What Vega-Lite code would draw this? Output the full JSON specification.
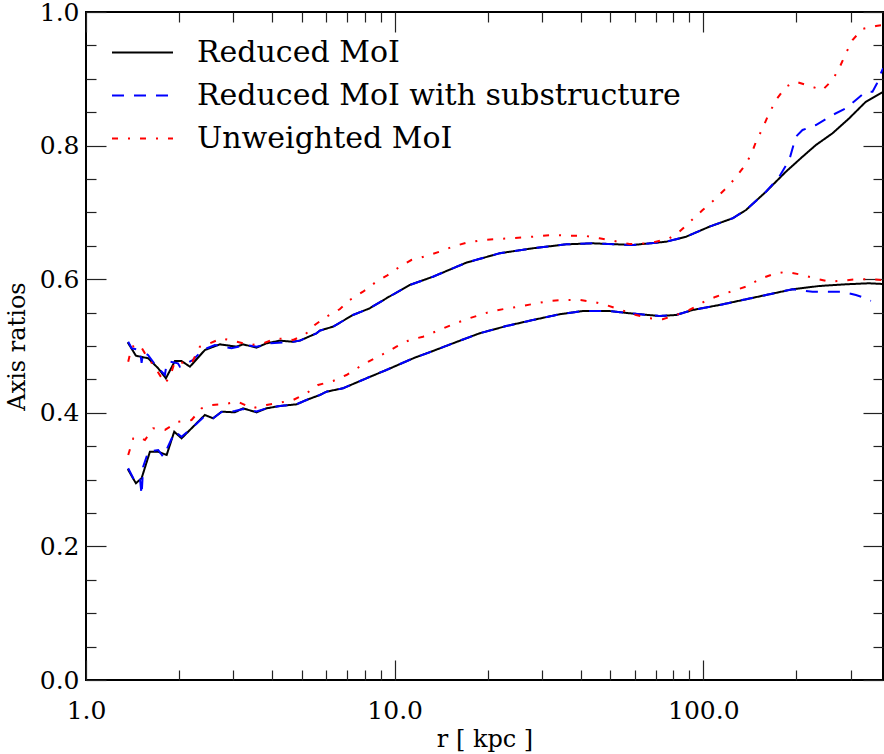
{
  "$schema": "https://vega.github.io/schema/vega-lite/v6.json",
  "width": 797,
  "height": 668,
  "autosize": {"type": "none"},
  "padding": {"left": 86, "top": 12, "right": 1, "bottom": 74},
  "background": "white",
  "config": {
    "view": {"stroke": "black", "strokeWidth": 2},
    "font": "DejaVu Serif",
    "axis": {
      "labelFont": "DejaVu Serif", "titleFont": "DejaVu Serif",
      "labelColor": "black", "titleColor": "black", "tickColor": "#222222",
      "domain": false, "grid": false, "labelFontSize": 25, "titleFontSize": 24,
      "titleFontWeight": "normal", "tickWidth": 1.2, "labelFlush": false, "labelOverlap": false
    }
  },
  "datasets": {
    "frame": [{"r": 1, "q": 0}, {"r": 382, "q": 1}],
    "curves": [
      {"s":"Reduced MoI","k":"b","r":1.365,"q":0.5055},{"s":"Reduced MoI","k":"b","r":1.451,"q":0.4855},{"s":"Reduced MoI","k":"b","r":1.591,"q":0.4816},{"s":"Reduced MoI","k":"b","r":1.714,"q":0.4666},{"s":"Reduced MoI","k":"b","r":1.815,"q":0.4516},{"s":"Reduced MoI","k":"b","r":1.941,"q":0.4775},{"s":"Reduced MoI","k":"b","r":2.04,"q":0.4775},{"s":"Reduced MoI","k":"b","r":2.171,"q":0.469},{"s":"Reduced MoI","k":"b","r":2.427,"q":0.494},{"s":"Reduced MoI","k":"b","r":2.714,"q":0.5025},{"s":"Reduced MoI","k":"b","r":3.074,"q":0.499},{"s":"Reduced MoI","k":"b","r":3.228,"q":0.5025},{"s":"Reduced MoI","k":"b","r":3.568,"q":0.4975},{"s":"Reduced MoI","k":"b","r":3.844,"q":0.504},{"s":"Reduced MoI","k":"b","r":4.245,"q":0.508},{"s":"Reduced MoI","k":"b","r":4.688,"q":0.5064},{"s":"Reduced MoI","k":"b","r":4.927,"q":0.508},{"s":"Reduced MoI","k":"b","r":5.58,"q":0.519},{"s":"Reduced MoI","k":"b","r":5.719,"q":0.523},{"s":"Reduced MoI","k":"b","r":6.315,"q":0.529},{"s":"Reduced MoI","k":"b","r":7.329,"q":0.5464},{"s":"Reduced MoI","k":"b","r":8.298,"q":0.5564},{"s":"Reduced MoI","k":"b","r":9.401,"q":0.5714},{"s":"Reduced MoI","k":"b","r":11.18,"q":0.5913},{"s":"Reduced MoI","k":"b","r":13.3,"q":0.6037},{"s":"Reduced MoI","k":"b","r":17.06,"q":0.6247},{"s":"Reduced MoI","k":"b","r":21.87,"q":0.6388},{"s":"Reduced MoI","k":"b","r":28.03,"q":0.6463},{"s":"Reduced MoI","k":"b","r":35.95,"q":0.6522},{"s":"Reduced MoI","k":"b","r":43.83,"q":0.6537},{"s":"Reduced MoI","k":"b","r":59.07,"q":0.6512},{"s":"Reduced MoI","k":"b","r":75.74,"q":0.6561},{"s":"Reduced MoI","k":"b","r":87.9,"q":0.6636},{"s":"Reduced MoI","k":"b","r":104.6,"q":0.6786},{"s":"Reduced MoI","k":"b","r":124.4,"q":0.6912},{"s":"Reduced MoI","k":"b","r":137.5,"q":0.7036},{"s":"Reduced MoI","k":"b","r":159.6,"q":0.731},{"s":"Reduced MoI","k":"b","r":185.2,"q":0.761},{"s":"Reduced MoI","k":"b","r":209.6,"q":0.7834},{"s":"Reduced MoI","k":"b","r":231.6,"q":0.8009},{"s":"Reduced MoI","k":"b","r":262.1,"q":0.8184},{"s":"Reduced MoI","k":"b","r":296.9,"q":0.8409},{"s":"Reduced MoI","k":"b","r":336.2,"q":0.8657},{"s":"Reduced MoI","k":"b","r":371.2,"q":0.8772},{"s":"Reduced MoI","k":"b","r":382.4,"q":0.8802},

      {"s":"Reduced MoI with substructure","k":"b","r":1.37,"q":0.5064},{"s":"Reduced MoI with substructure","k":"b","r":1.406,"q":0.4966},{"s":"Reduced MoI with substructure","k":"b","r":1.495,"q":0.494},{"s":"Reduced MoI with substructure","k":"b","r":1.514,"q":0.4746},{"s":"Reduced MoI with substructure","k":"b","r":1.532,"q":0.491},{"s":"Reduced MoI with substructure","k":"b","r":1.588,"q":0.4865},{"s":"Reduced MoI with substructure","k":"b","r":1.694,"q":0.469},{"s":"Reduced MoI with substructure","k":"b","r":1.802,"q":0.4566},{"s":"Reduced MoI with substructure","k":"b","r":1.825,"q":0.4741},{"s":"Reduced MoI with substructure","k":"b","r":1.87,"q":0.4765},{"s":"Reduced MoI with substructure","k":"b","r":1.985,"q":0.4741},{"s":"Reduced MoI with substructure","k":"b","r":2.015,"q":0.469},{"s":"Reduced MoI with substructure","k":"b","r":2.219,"q":0.479},{"s":"Reduced MoI with substructure","k":"b","r":2.391,"q":0.494},{"s":"Reduced MoI with substructure","k":"b","r":2.615,"q":0.5015},{"s":"Reduced MoI with substructure","k":"b","r":2.961,"q":0.4966},{"s":"Reduced MoI with substructure","k":"b","r":3.311,"q":0.5015},{"s":"Reduced MoI with substructure","k":"b","r":3.568,"q":0.499},{"s":"Reduced MoI with substructure","k":"b","r":3.94,"q":0.504},{"s":"Reduced MoI with substructure","k":"b","r":4.688,"q":0.5064},{"s":"Reduced MoI with substructure","k":"b","r":4.927,"q":0.508},{"s":"Reduced MoI with substructure","k":"b","r":5.58,"q":0.519},{"s":"Reduced MoI with substructure","k":"b","r":5.719,"q":0.523},{"s":"Reduced MoI with substructure","k":"b","r":6.315,"q":0.529},{"s":"Reduced MoI with substructure","k":"b","r":7.329,"q":0.5464},{"s":"Reduced MoI with substructure","k":"b","r":8.298,"q":0.5564},{"s":"Reduced MoI with substructure","k":"b","r":9.401,"q":0.5714},{"s":"Reduced MoI with substructure","k":"b","r":11.18,"q":0.5913},{"s":"Reduced MoI with substructure","k":"b","r":13.3,"q":0.6037},{"s":"Reduced MoI with substructure","k":"b","r":17.06,"q":0.6247},{"s":"Reduced MoI with substructure","k":"b","r":21.87,"q":0.6388},{"s":"Reduced MoI with substructure","k":"b","r":28.03,"q":0.6463},{"s":"Reduced MoI with substructure","k":"b","r":35.95,"q":0.6522},{"s":"Reduced MoI with substructure","k":"b","r":43.83,"q":0.6537},{"s":"Reduced MoI with substructure","k":"b","r":59.07,"q":0.6512},{"s":"Reduced MoI with substructure","k":"b","r":75.74,"q":0.6561},{"s":"Reduced MoI with substructure","k":"b","r":87.9,"q":0.6636},{"s":"Reduced MoI with substructure","k":"b","r":104.6,"q":0.6786},{"s":"Reduced MoI with substructure","k":"b","r":124.4,"q":0.6912},{"s":"Reduced MoI with substructure","k":"b","r":137.5,"q":0.7036},{"s":"Reduced MoI with substructure","k":"b","r":159.6,"q":0.731},{"s":"Reduced MoI with substructure","k":"b","r":176.2,"q":0.7534},{"s":"Reduced MoI with substructure","k":"b","r":189.8,"q":0.7784},{"s":"Reduced MoI with substructure","k":"b","r":199.5,"q":0.8133},{"s":"Reduced MoI with substructure","k":"b","r":209.6,"q":0.8234},{"s":"Reduced MoI with substructure","k":"b","r":231.6,"q":0.8308},{"s":"Reduced MoI with substructure","k":"b","r":262.1,"q":0.8458},{"s":"Reduced MoI with substructure","k":"b","r":289.6,"q":0.8558},{"s":"Reduced MoI with substructure","k":"b","r":312.1,"q":0.8683},{"s":"Reduced MoI with substructure","k":"b","r":336.2,"q":0.8807},{"s":"Reduced MoI with substructure","k":"b","r":353.2,"q":0.8807},{"s":"Reduced MoI with substructure","k":"b","r":365,"q":0.893},{"s":"Reduced MoI with substructure","k":"b","r":375.9,"q":0.9082},{"s":"Reduced MoI with substructure","k":"b","r":382.4,"q":0.916},

      {"s":"Unweighted MoI","k":"b","r":1.37,"q":0.4765},{"s":"Unweighted MoI","k":"b","r":1.406,"q":0.499},{"s":"Unweighted MoI","k":"b","r":1.495,"q":0.5015},{"s":"Unweighted MoI","k":"b","r":1.552,"q":0.489},{"s":"Unweighted MoI","k":"b","r":1.694,"q":0.464},{"s":"Unweighted MoI","k":"b","r":1.802,"q":0.4442},{"s":"Unweighted MoI","k":"b","r":1.87,"q":0.454},{"s":"Unweighted MoI","k":"b","r":1.941,"q":0.4765},{"s":"Unweighted MoI","k":"b","r":2.118,"q":0.4741},{"s":"Unweighted MoI","k":"b","r":2.198,"q":0.4741},{"s":"Unweighted MoI","k":"b","r":2.339,"q":0.499},{"s":"Unweighted MoI","k":"b","r":2.519,"q":0.504},{"s":"Unweighted MoI","k":"b","r":2.749,"q":0.5115},{"s":"Unweighted MoI","k":"b","r":3.074,"q":0.5064},{"s":"Unweighted MoI","k":"b","r":3.394,"q":0.5015},{"s":"Unweighted MoI","k":"b","r":3.748,"q":0.504},{"s":"Unweighted MoI","k":"b","r":4.141,"q":0.5115},{"s":"Unweighted MoI","k":"b","r":4.688,"q":0.509},{"s":"Unweighted MoI","k":"b","r":5.113,"q":0.5165},{"s":"Unweighted MoI","k":"b","r":5.509,"q":0.5314},{"s":"Unweighted MoI","k":"b","r":6.012,"q":0.5439},{"s":"Unweighted MoI","k":"b","r":6.637,"q":0.555},{"s":"Unweighted MoI","k":"b","r":7.152,"q":0.5689},{"s":"Unweighted MoI","k":"b","r":7.897,"q":0.5813},{"s":"Unweighted MoI","k":"b","r":8.724,"q":0.5963},{"s":"Unweighted MoI","k":"b","r":9.401,"q":0.6048},{"s":"Unweighted MoI","k":"b","r":10.38,"q":0.6187},{"s":"Unweighted MoI","k":"b","r":11.32,"q":0.6287},{"s":"Unweighted MoI","k":"b","r":12.66,"q":0.6347},{"s":"Unweighted MoI","k":"b","r":13.98,"q":0.6412},{"s":"Unweighted MoI","k":"b","r":15.44,"q":0.6487},{"s":"Unweighted MoI","k":"b","r":17.06,"q":0.6546},{"s":"Unweighted MoI","k":"b","r":19.31,"q":0.6587},{"s":"Unweighted MoI","k":"b","r":23.56,"q":0.6612},{"s":"Unweighted MoI","k":"b","r":28.03,"q":0.6636},{"s":"Unweighted MoI","k":"b","r":32.54,"q":0.6662},{"s":"Unweighted MoI","k":"b","r":36.84,"q":0.6651},{"s":"Unweighted MoI","k":"b","r":41.73,"q":0.6647},{"s":"Unweighted MoI","k":"b","r":46.06,"q":0.6612},{"s":"Unweighted MoI","k":"b","r":50.87,"q":0.6576},{"s":"Unweighted MoI","k":"b","r":57.63,"q":0.6527},{"s":"Unweighted MoI","k":"b","r":66.88,"q":0.6537},{"s":"Unweighted MoI","k":"b","r":77.62,"q":0.6612},{"s":"Unweighted MoI","k":"b","r":83.62,"q":0.6711},{"s":"Unweighted MoI","k":"b","r":92.36,"q":0.6897},{"s":"Unweighted MoI","k":"b","r":99.48,"q":0.7036},{"s":"Unweighted MoI","k":"b","r":108.5,"q":0.7186},{"s":"Unweighted MoI","k":"b","r":116.9,"q":0.7335},{"s":"Unweighted MoI","k":"b","r":126.0,"q":0.7496},{"s":"Unweighted MoI","k":"b","r":134.1,"q":0.766},{"s":"Unweighted MoI","k":"b","r":142.7,"q":0.7859},{"s":"Unweighted MoI","k":"b","r":148.1,"q":0.8058},{"s":"Unweighted MoI","k":"b","r":155.6,"q":0.8259},{"s":"Unweighted MoI","k":"b","r":161.5,"q":0.8433},{"s":"Unweighted MoI","k":"b","r":171.9,"q":0.8683},{"s":"Unweighted MoI","k":"b","r":185.2,"q":0.8882},{"s":"Unweighted MoI","k":"b","r":199.5,"q":0.8957},{"s":"Unweighted MoI","k":"b","r":220.3,"q":0.8892},{"s":"Unweighted MoI","k":"b","r":243.3,"q":0.8832},{"s":"Unweighted MoI","k":"b","r":262.1,"q":0.8982},{"s":"Unweighted MoI","k":"b","r":275.5,"q":0.9157},{"s":"Unweighted MoI","k":"b","r":289.6,"q":0.9382},{"s":"Unweighted MoI","k":"b","r":304.3,"q":0.9581},{"s":"Unweighted MoI","k":"b","r":327.8,"q":0.9746},{"s":"Unweighted MoI","k":"b","r":362.2,"q":0.979},{"s":"Unweighted MoI","k":"b","r":382.4,"q":0.9805},

      {"s":"Reduced MoI","k":"c","r":1.365,"q":0.3159},{"s":"Reduced MoI","k":"c","r":1.451,"q":0.2945},{"s":"Reduced MoI","k":"c","r":1.514,"q":0.302},{"s":"Reduced MoI","k":"c","r":1.611,"q":0.3418},{"s":"Reduced MoI","k":"c","r":1.714,"q":0.3418},{"s":"Reduced MoI","k":"c","r":1.825,"q":0.3368},{"s":"Reduced MoI","k":"c","r":1.931,"q":0.3717},{"s":"Reduced MoI","k":"c","r":2.04,"q":0.3618},{"s":"Reduced MoI","k":"c","r":2.224,"q":0.3792},{"s":"Reduced MoI","k":"c","r":2.427,"q":0.3967},{"s":"Reduced MoI","k":"c","r":2.582,"q":0.3918},{"s":"Reduced MoI","k":"c","r":2.749,"q":0.4017},{"s":"Reduced MoI","k":"c","r":3.035,"q":0.4007},{"s":"Reduced MoI","k":"c","r":3.228,"q":0.4067},{"s":"Reduced MoI","k":"c","r":3.568,"q":0.4007},{"s":"Reduced MoI","k":"c","r":3.844,"q":0.4067},{"s":"Reduced MoI","k":"c","r":4.245,"q":0.4102},{"s":"Reduced MoI","k":"c","r":4.808,"q":0.4127},{"s":"Reduced MoI","k":"c","r":5.178,"q":0.4192},{"s":"Reduced MoI","k":"c","r":5.719,"q":0.4266},{"s":"Reduced MoI","k":"c","r":6.012,"q":0.4316},{"s":"Reduced MoI","k":"c","r":6.804,"q":0.4367},{"s":"Reduced MoI","k":"c","r":8.095,"q":0.4516},{"s":"Reduced MoI","k":"c","r":9.401,"q":0.4641},{"s":"Reduced MoI","k":"c","r":11.61,"q":0.4825},{"s":"Reduced MoI","k":"c","r":13.3,"q":0.4925},{"s":"Reduced MoI","k":"c","r":15.44,"q":0.504},{"s":"Reduced MoI","k":"c","r":18.84,"q":0.519},{"s":"Reduced MoI","k":"c","r":22.99,"q":0.5299},{"s":"Reduced MoI","k":"c","r":28.03,"q":0.5389},{"s":"Reduced MoI","k":"c","r":34.2,"q":0.5475},{"s":"Reduced MoI","k":"c","r":40.69,"q":0.5524},{"s":"Reduced MoI","k":"c","r":49.64,"q":0.5524},{"s":"Reduced MoI","k":"c","r":57.63,"q":0.549},{"s":"Reduced MoI","k":"c","r":72.04,"q":0.5449},{"s":"Reduced MoI","k":"c","r":81.6,"q":0.5464},{"s":"Reduced MoI","k":"c","r":92.36,"q":0.5539},{"s":"Reduced MoI","k":"c","r":112.7,"q":0.5614},{"s":"Reduced MoI","k":"c","r":137.5,"q":0.5699},{"s":"Reduced MoI","k":"c","r":163.6,"q":0.5774},{"s":"Reduced MoI","k":"c","r":194.5,"q":0.5849},{"s":"Reduced MoI","k":"c","r":237.4,"q":0.5898},{"s":"Reduced MoI","k":"c","r":289.6,"q":0.5924},{"s":"Reduced MoI","k":"c","r":344.6,"q":0.5939},{"s":"Reduced MoI","k":"c","r":382.4,"q":0.5928},

      {"s":"Reduced MoI with substructure","k":"c","r":1.37,"q":0.3169},{"s":"Reduced MoI with substructure","k":"c","r":1.441,"q":0.2969},{"s":"Reduced MoI with substructure","k":"c","r":1.495,"q":0.3024},{"s":"Reduced MoI with substructure","k":"c","r":1.514,"q":0.277},{"s":"Reduced MoI with substructure","k":"c","r":1.532,"q":0.3193},{"s":"Reduced MoI with substructure","k":"c","r":1.591,"q":0.3418},{"s":"Reduced MoI with substructure","k":"c","r":1.714,"q":0.3443},{"s":"Reduced MoI with substructure","k":"c","r":1.779,"q":0.3343},{"s":"Reduced MoI with substructure","k":"c","r":1.941,"q":0.3717},{"s":"Reduced MoI with substructure","k":"c","r":2.04,"q":0.3642},{"s":"Reduced MoI with substructure","k":"c","r":2.198,"q":0.3768},{"s":"Reduced MoI with substructure","k":"c","r":2.427,"q":0.3952},{"s":"Reduced MoI with substructure","k":"c","r":2.582,"q":0.3918},{"s":"Reduced MoI with substructure","k":"c","r":2.749,"q":0.4012},{"s":"Reduced MoI with substructure","k":"c","r":3.035,"q":0.4027},{"s":"Reduced MoI with substructure","k":"c","r":3.228,"q":0.4057},{"s":"Reduced MoI with substructure","k":"c","r":3.568,"q":0.402},{"s":"Reduced MoI with substructure","k":"c","r":3.844,"q":0.4067},{"s":"Reduced MoI with substructure","k":"c","r":4.245,"q":0.4102},{"s":"Reduced MoI with substructure","k":"c","r":4.808,"q":0.4127},{"s":"Reduced MoI with substructure","k":"c","r":5.178,"q":0.4192},{"s":"Reduced MoI with substructure","k":"c","r":5.719,"q":0.4266},{"s":"Reduced MoI with substructure","k":"c","r":6.012,"q":0.4316},{"s":"Reduced MoI with substructure","k":"c","r":6.804,"q":0.4367},{"s":"Reduced MoI with substructure","k":"c","r":8.095,"q":0.4516},{"s":"Reduced MoI with substructure","k":"c","r":9.401,"q":0.4641},{"s":"Reduced MoI with substructure","k":"c","r":11.61,"q":0.4825},{"s":"Reduced MoI with substructure","k":"c","r":13.3,"q":0.4925},{"s":"Reduced MoI with substructure","k":"c","r":15.44,"q":0.504},{"s":"Reduced MoI with substructure","k":"c","r":18.84,"q":0.519},{"s":"Reduced MoI with substructure","k":"c","r":22.99,"q":0.5299},{"s":"Reduced MoI with substructure","k":"c","r":28.03,"q":0.5389},{"s":"Reduced MoI with substructure","k":"c","r":34.2,"q":0.5475},{"s":"Reduced MoI with substructure","k":"c","r":40.69,"q":0.5524},{"s":"Reduced MoI with substructure","k":"c","r":49.64,"q":0.5524},{"s":"Reduced MoI with substructure","k":"c","r":57.63,"q":0.549},{"s":"Reduced MoI with substructure","k":"c","r":72.04,"q":0.5449},{"s":"Reduced MoI with substructure","k":"c","r":81.6,"q":0.5464},{"s":"Reduced MoI with substructure","k":"c","r":92.36,"q":0.5539},{"s":"Reduced MoI with substructure","k":"c","r":112.7,"q":0.5614},{"s":"Reduced MoI with substructure","k":"c","r":137.5,"q":0.5699},{"s":"Reduced MoI with substructure","k":"c","r":163.6,"q":0.5774},{"s":"Reduced MoI with substructure","k":"c","r":194.5,"q":0.5849},{"s":"Reduced MoI with substructure","k":"c","r":225.8,"q":0.5813},{"s":"Reduced MoI with substructure","k":"c","r":246.4,"q":0.5813},{"s":"Reduced MoI with substructure","k":"c","r":282.3,"q":0.5813},{"s":"Reduced MoI with substructure","k":"c","r":312.1,"q":0.5763},{"s":"Reduced MoI with substructure","k":"c","r":336.2,"q":0.5714},{"s":"Reduced MoI with substructure","k":"c","r":349.0,"q":0.5674},

      {"s":"Unweighted MoI","k":"c","r":1.37,"q":0.3368},{"s":"Unweighted MoI","k":"c","r":1.423,"q":0.3618},{"s":"Unweighted MoI","k":"c","r":1.476,"q":0.3642},{"s":"Unweighted MoI","k":"c","r":1.552,"q":0.3593},{"s":"Unweighted MoI","k":"c","r":1.651,"q":0.3768},{"s":"Unweighted MoI","k":"c","r":1.802,"q":0.3743},{"s":"Unweighted MoI","k":"c","r":1.99,"q":0.3867},{"s":"Unweighted MoI","k":"c","r":2.198,"q":0.3892},{"s":"Unweighted MoI","k":"c","r":2.368,"q":0.4067},{"s":"Unweighted MoI","k":"c","r":2.551,"q":0.4117},{"s":"Unweighted MoI","k":"c","r":2.818,"q":0.4132},{"s":"Unweighted MoI","k":"c","r":3.111,"q":0.4166},{"s":"Unweighted MoI","k":"c","r":3.437,"q":0.4067},{"s":"Unweighted MoI","k":"c","r":3.844,"q":0.4117},{"s":"Unweighted MoI","k":"c","r":4.245,"q":0.4151},{"s":"Unweighted MoI","k":"c","r":4.688,"q":0.4192},{"s":"Unweighted MoI","k":"c","r":5.178,"q":0.4292},{"s":"Unweighted MoI","k":"c","r":5.647,"q":0.4416},{"s":"Unweighted MoI","k":"c","r":6.315,"q":0.4476},{"s":"Unweighted MoI","k":"c","r":6.979,"q":0.4566},{"s":"Unweighted MoI","k":"c","r":7.703,"q":0.469},{"s":"Unweighted MoI","k":"c","r":8.403,"q":0.479},{"s":"Unweighted MoI","k":"c","r":9.282,"q":0.4891},{"s":"Unweighted MoI","k":"c","r":10.13,"q":0.499},{"s":"Unweighted MoI","k":"c","r":11.18,"q":0.509},{"s":"Unweighted MoI","k":"c","r":12.35,"q":0.5139},{"s":"Unweighted MoI","k":"c","r":13.98,"q":0.524},{"s":"Unweighted MoI","k":"c","r":15.26,"q":0.5314},{"s":"Unweighted MoI","k":"c","r":17.06,"q":0.54},{"s":"Unweighted MoI","k":"c","r":18.84,"q":0.5464},{"s":"Unweighted MoI","k":"c","r":20.8,"q":0.5524},{"s":"Unweighted MoI","k":"c","r":23.27,"q":0.5564},{"s":"Unweighted MoI","k":"c","r":26.02,"q":0.5599},{"s":"Unweighted MoI","k":"c","r":28.75,"q":0.5639},{"s":"Unweighted MoI","k":"c","r":31.74,"q":0.5674},{"s":"Unweighted MoI","k":"c","r":35.49,"q":0.5689},{"s":"Unweighted MoI","k":"c","r":39.7,"q":0.5689},{"s":"Unweighted MoI","k":"c","r":43.83,"q":0.5663},{"s":"Unweighted MoI","k":"c","r":48.43,"q":0.5614},{"s":"Unweighted MoI","k":"c","r":54.16,"q":0.5539},{"s":"Unweighted MoI","k":"c","r":60.57,"q":0.5464},{"s":"Unweighted MoI","k":"c","r":66.88,"q":0.5415},{"s":"Unweighted MoI","k":"c","r":73.84,"q":0.54},{"s":"Unweighted MoI","k":"c","r":81.6,"q":0.5464},{"s":"Unweighted MoI","k":"c","r":90.09,"q":0.5539},{"s":"Unweighted MoI","k":"c","r":100.7,"q":0.5663},{"s":"Unweighted MoI","k":"c","r":109.9,"q":0.5738},{"s":"Unweighted MoI","k":"c","r":124.4,"q":0.5823},{"s":"Unweighted MoI","k":"c","r":137.5,"q":0.5888},{"s":"Unweighted MoI","k":"c","r":151.8,"q":0.5999},{"s":"Unweighted MoI","k":"c","r":167.6,"q":0.6073},{"s":"Unweighted MoI","k":"c","r":185.2,"q":0.6112},{"s":"Unweighted MoI","k":"c","r":204.5,"q":0.6073},{"s":"Unweighted MoI","k":"c","r":225.8,"q":0.6022},{"s":"Unweighted MoI","k":"c","r":255.8,"q":0.5963},{"s":"Unweighted MoI","k":"c","r":282.3,"q":0.5978},{"s":"Unweighted MoI","k":"c","r":312.1,"q":0.5999},{"s":"Unweighted MoI","k":"c","r":344.6,"q":0.5999},{"s":"Unweighted MoI","k":"c","r":382.4,"q":0.5988}
    ]
  },
  "layer": [
    {
      "data": {"name": "frame"},
      "mark": {"type": "point", "opacity": 0},
      "encoding": {
        "x": {"field": "r", "type": "quantitative", "scale": {"type": "log", "domain": [1, 382], "nice": false},
              "axis": {"orient": "bottom", "values": [1, 10, 100], "tickSize": -20, "labels": false, "title": null}},
        "y": {"field": "q", "type": "quantitative", "scale": {"domain": [0, 1], "nice": false},
              "axis": {"orient": "left", "values": [0, 0.2, 0.4, 0.6, 0.8, 1.0], "tickSize": -20, "labels": false, "title": null}}
      }
    },
    {
      "data": {"name": "frame"},
      "mark": {"type": "point", "opacity": 0},
      "encoding": {
        "x": {"field": "r", "type": "quantitative", "scale": {"type": "log", "domain": [1, 382], "nice": false},
              "axis": {"orient": "bottom", "values": [2, 3, 4, 5, 6, 7, 8, 9, 20, 30, 40, 50, 60, 70, 80, 90, 200, 300], "tickSize": -10, "labels": false, "title": null}},
        "y": {"field": "q", "type": "quantitative", "scale": {"domain": [0, 1], "nice": false},
              "axis": {"orient": "left", "values": [0.05, 0.1, 0.15, 0.25, 0.3, 0.35, 0.45, 0.5, 0.55, 0.65, 0.7, 0.75, 0.85, 0.9, 0.95], "tickSize": -10, "labels": false, "title": null}}
      }
    },
    {
      "data": {"name": "frame"},
      "mark": {"type": "point", "opacity": 0},
      "encoding": {
        "x": {"field": "r", "type": "quantitative", "scale": {"type": "log", "domain": [1, 382], "nice": false},
              "axis": {"orient": "top", "values": [1, 10, 100], "tickSize": -20, "labels": false, "title": null}},
        "y": {"field": "q", "type": "quantitative", "scale": {"domain": [0, 1], "nice": false},
              "axis": {"orient": "right", "values": [0, 0.2, 0.4, 0.6, 0.8, 1.0], "tickSize": -20, "labels": false, "title": null}}
      }
    },
    {
      "data": {"name": "frame"},
      "mark": {"type": "point", "opacity": 0},
      "encoding": {
        "x": {"field": "r", "type": "quantitative", "scale": {"type": "log", "domain": [1, 382], "nice": false},
              "axis": {"orient": "top", "values": [2, 3, 4, 5, 6, 7, 8, 9, 20, 30, 40, 50, 60, 70, 80, 90, 200, 300], "tickSize": -10, "labels": false, "title": null}},
        "y": {"field": "q", "type": "quantitative", "scale": {"domain": [0, 1], "nice": false},
              "axis": {"orient": "right", "values": [0.05, 0.1, 0.15, 0.25, 0.3, 0.35, 0.45, 0.5, 0.55, 0.65, 0.7, 0.75, 0.85, 0.9, 0.95], "tickSize": -10, "labels": false, "title": null}}
      }
    },
    {
      "data": {"name": "curves"},
      "mark": {"type": "line", "strokeWidth": 2, "clip": true},
      "encoding": {
        "x": {"field": "r", "type": "quantitative", "scale": {"type": "log", "domain": [1, 382], "nice": false},
              "axis": {"orient": "bottom", "values": [1, 10, 100], "format": ".1f", "ticks": false, "labelPadding": 18, "title": "r [ kpc ]", "titlePadding": 4}},
        "y": {"field": "q", "type": "quantitative", "scale": {"domain": [0, 1], "nice": false},
              "axis": {"orient": "left", "values": [0, 0.2, 0.4, 0.6, 0.8, 1.0], "format": ".1f", "ticks": false, "labelPadding": 7, "title": "Axis ratios", "titlePadding": 10}},
        "color": {"field": "s", "type": "nominal",
                  "scale": {"domain": ["Reduced MoI", "Reduced MoI with substructure", "Unweighted MoI"], "range": ["#000000", "#0000ff", "#ff0000"]},
                  "legend": {"orient": "none", "legendX": 25, "legendY": 19, "title": null, "symbolType": "stroke", "symbolSize": 3721, "symbolStrokeWidth": 2, "labelFont": "DejaVu Serif", "labelFontSize": 30, "labelColor": "black", "labelOffset": 23, "rowPadding": 0, "clipHeight": 43, "labelLimit": 0}},
        "strokeDash": {"field": "s", "type": "nominal",
                  "scale": {"domain": ["Reduced MoI", "Reduced MoI with substructure", "Unweighted MoI"], "range": [[1, 0], [12, 10], [6, 10, 2, 10]]},
                  "legend": {"orient": "none", "legendX": 25, "legendY": 19, "title": null, "symbolType": "stroke", "symbolSize": 3721, "symbolStrokeWidth": 2, "labelFont": "DejaVu Serif", "labelFontSize": 30, "labelColor": "black", "labelOffset": 23, "rowPadding": 0, "clipHeight": 43, "labelLimit": 0}},
        "detail": {"field": "k", "type": "nominal"}
      }
    }
  ],
  "resolve": {"axis": {"x": "independent", "y": "independent"}}
}
